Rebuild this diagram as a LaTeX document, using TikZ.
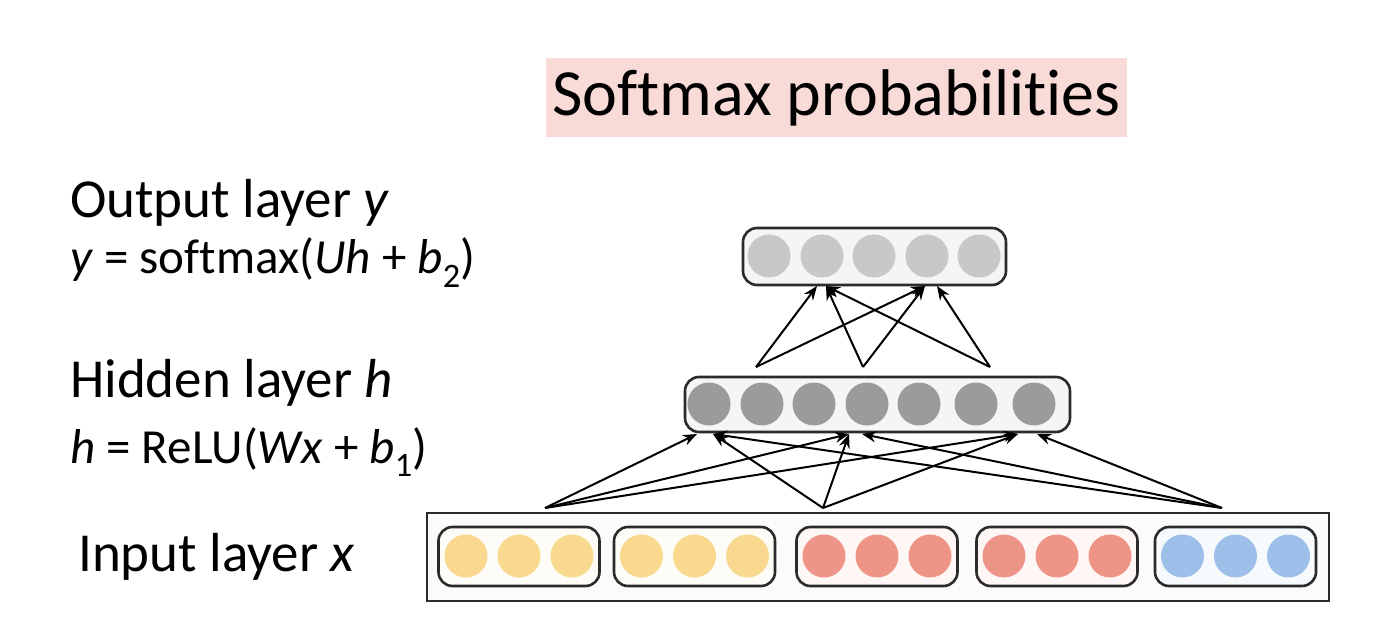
\documentclass[tikz,border=0pt]{standalone}
\usepackage{fontspec}
\setmainfont[Ligatures=NoCommon]{Carlito}
\usepackage{tikz}
\usetikzlibrary{calc,arrows.meta}
\definecolor{titlebg}{HTML}{F8DAD7}
\definecolor{outc}{HTML}{C8C8C8}
\definecolor{hidc}{HTML}{9B9B9B}
\definecolor{yel}{HTML}{F8D98F}
\definecolor{sal}{HTML}{EE9588}
\definecolor{blu}{HTML}{9DBFE9}
\definecolor{frame}{HTML}{2B2B2B}
\tikzset{
  titlebox/.style={fill=titlebg, inner sep=0pt, minimum width=581pt, minimum height=79pt,
    font=\fontsize{66}{70}\selectfont},
  layer/.style={draw=frame, line width=2.6pt, rounded corners=14pt, fill=black!4},
  inframe/.style={draw=frame, line width=2pt, fill=black!1.5, minimum width=902pt,
    minimum height=88pt},
  group/.style={draw=frame, line width=2.6pt, rounded corners=14pt, minimum width=161pt,
    minimum height=59pt},
  unit/.style={circle, inner sep=0pt, minimum size=43pt},
  conn/.style={draw=black, line width=2pt, -{Stealth[length=14pt,width=11pt]}},
  lab/.style={anchor=base west, inner sep=0pt, font=\fontsize{55}{60}\selectfont},
  eq/.style={anchor=base west, inner sep=0pt, font=\fontsize{49}{54}\selectfont}
}

\begin{document}
\begin{tikzpicture}[x=1pt, y=-1pt]
  \useasboundingbox[fill=white] (0,0) rectangle (1374,628);

  \node[titlebox] (title) at (836.5,97.5) {Softmax probabilities};

  % layer boxes
  \node[layer, minimum width=263pt, minimum height=57pt] (outbox) at (874.5,256.5) {};
  \node[layer, minimum width=385pt, minimum height=55pt] (hidbox) at (877.5,404.5) {};
  \node[inframe] (inbox) at (878,557) {};

  \foreach \x [count=\i] in {769,822,874,927,979}
    \node[unit, fill=outc] (o\i) at (\x,256) {};
  \foreach \x [count=\i] in {709,762,814,867,919,976,1034}
    \node[unit, fill=hidc] (h\i) at (\x,404) {};
  \foreach \c/\col [count=\g] in {519/yel,694.5/yel,877/sal,1057/sal,1235.5/blu} {
    \node[group, fill=\col!8] (g\g) at (\c,556.5) {};
    \foreach \d [count=\k] in {-53,0,53}
      \node[unit, fill=\col] (x\g\k) at (\c+\d,556) {};
  }

  % input -> hidden
  \coordinate (s1) at (545,508);
  \coordinate (s2) at (823,508);
  \coordinate (s3) at (1222,508);
  \coordinate (t1a) at (697,434); \coordinate (t1b) at (713,434);
  \coordinate (t2a) at (849,434); \coordinate (t2b) at (862,434);
  \coordinate (t3a) at (1018,434); \coordinate (t3b) at (1037,434);
  \draw[conn] (s1) -- (t1a);
  \draw[conn] (s1) -- (t2a);
  \draw[conn] (s1) -- (t3a);
  \draw[conn] (s2) -- (t1b);
  \draw[conn] (s2) -- (t2a);
  \draw[conn] (s2) -- (t3a);
  \draw[conn] (s3) -- (t1b);
  \draw[conn] (s3) -- (t2b);
  \draw[conn] (s3) -- (t3b);

  % hidden -> output
  \coordinate (u1) at (756,367);
  \coordinate (u2) at (863,367);
  \coordinate (u3) at (990,367);
  \coordinate (pa) at (817,286); \coordinate (pb) at (826,286);
  \coordinate (qa) at (925,286); \coordinate (qb) at (937,286);
  \draw[conn] (u1) -- (pa);
  \draw[conn] (u2) -- (pb);
  \draw[conn] (u3) -- (pb);
  \draw[conn] (u1) -- (qa);
  \draw[conn] (u2) -- (qa);
  \draw[conn] (u3) -- (qb);

  % labels
  \node[lab] (outlab) at (70,218) {Output layer \textit{y}};
  \node[eq] (outeq) at (70,274) {\textit{y} = softmax(\textit{Uh} + \textit{b}\textsubscript{2})};
  \node[lab] (hidlab) at (70,398) {Hidden layer \textit{h}};
  \node[eq] (hideq) at (70,463) {\textit{h} = ReLU(\textit{Wx} + \textit{b}\textsubscript{1})};
  \node[lab] (inlab) at (78,571) {Input layer \textit{x}};
\end{tikzpicture}
\end{document}
